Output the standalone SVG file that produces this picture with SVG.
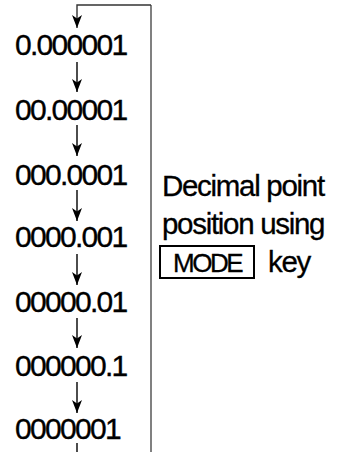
<svg xmlns="http://www.w3.org/2000/svg" width="342" height="452" viewBox="0 0 342 452">
<style>
.v{font-family:"Liberation Sans",Arial,sans-serif;font-size:30px;letter-spacing:-1.7px;fill:#000;stroke:#000;stroke-width:0.35}
.t{font-family:"Liberation Sans",Arial,sans-serif;font-size:29.5px;letter-spacing:-1.3px;fill:#000;stroke:#000;stroke-width:0.3}
.m{font-family:"Liberation Sans",Arial,sans-serif;font-size:26px;letter-spacing:-2.5px;fill:#000;stroke:#000;stroke-width:0.3}
.a{stroke:#000;stroke-width:1.4;fill:none;marker-end:url(#ah)}
</style>
<defs>
<marker id="ah" viewBox="0 0 13 10" refX="13" refY="5" markerWidth="13" markerHeight="10" markerUnits="userSpaceOnUse" orient="auto">
<path d="M0,0 L13,5 L0,10 L3.5,5 z" fill="#000"/>
</marker>
</defs>
<rect width="342" height="452" fill="#fff"/>
<g id="connectors">
<line x1="151" y1="452" x2="151" y2="5" stroke="#808080" stroke-width="2"/>
<path d="M151,5 H77 V28" stroke="#333" stroke-width="1.4" fill="none" marker-end="url(#ah)"/>
<line class="a" x1="77" y1="62" x2="77" y2="92"/>
<line class="a" x1="77" y1="125" x2="77" y2="156"/>
<line class="a" x1="77" y1="190" x2="77" y2="221"/>
<line class="a" x1="77" y1="254" x2="77" y2="285"/>
<line class="a" x1="77" y1="318" x2="77" y2="348"/>
<line class="a" x1="77" y1="382" x2="77" y2="413"/>
<line x1="77" y1="443" x2="77" y2="452" stroke="#000" stroke-width="1.4"/>
</g>
<g id="n1"><text class="v" x="15" y="55">0.000001</text></g>
<g id="n2"><text class="v" x="15" y="120">00.00001</text></g>
<g id="n3"><text class="v" x="15" y="185">000.0001</text></g>
<g id="n4"><text class="v" x="15" y="247">0000.001</text></g>
<g id="n5"><text class="v" x="15" y="312">00000.01</text></g>
<g id="n6"><text class="v" x="15" y="376">000000.1</text></g>
<g id="n7"><text class="v" x="15" y="439">0000001</text></g>
<g id="label">
<text class="t" x="162" y="196">Decimal point</text>
<text class="t" x="162" y="234">position using</text>
<rect x="160" y="246" width="94" height="32" fill="none" stroke="#000" stroke-width="2"/>
<text class="m" x="173" y="272">MODE</text>
<text class="t" x="268" y="272" letter-spacing="-0.9">key</text>
</g>
</svg>
